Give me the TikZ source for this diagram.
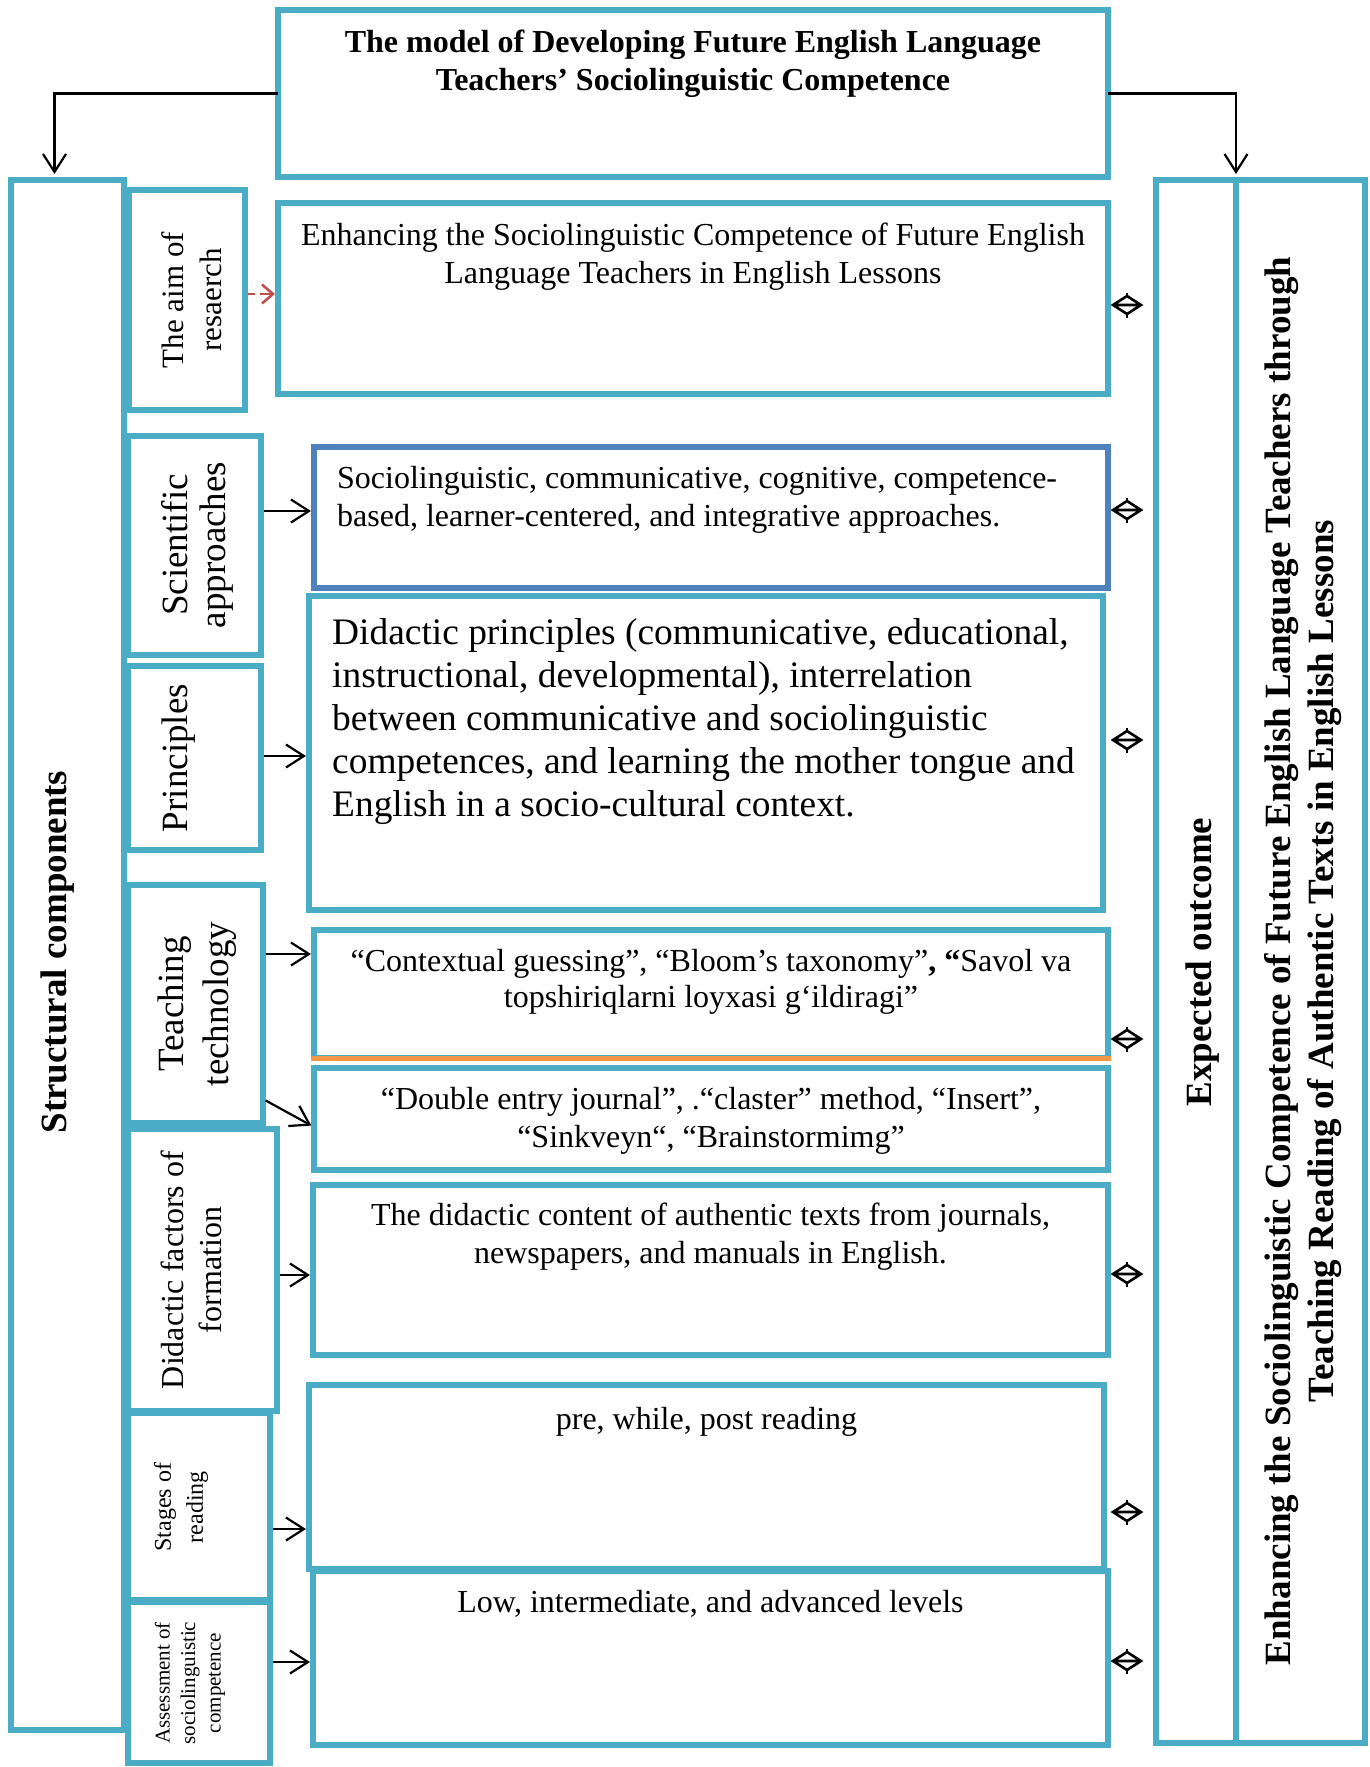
\documentclass[tikz,border=0pt]{standalone}
\usepackage{fontspec}
\setmainfont{Liberation Serif}
\usetikzlibrary{arrows.meta}
\definecolor{cy}{HTML}{4BACC6}
\definecolor{bl}{HTML}{4F81BD}
\definecolor{og}{HTML}{F79646}
\definecolor{rd}{HTML}{C0504D}
% diamond double-arrow ending 14pt before the outcome box, at height #1
\newcommand{\dmdlink}[1]{%
  \draw[dia] (exp.west |- 0,#1) ++(-43,0) coordinate (dL) -- ++(28,0)
    (dL) -- ++(14,-9) -- ++(14,9) -- ++(-14,9) -- cycle;
  \draw[line width=2pt] (dL) ++(14,-12.5) -- ++(0,4) (dL) ++(14,8.5) -- ++(0,4);}
\begin{document}
\begin{tikzpicture}[x=1pt,y=-1pt,
  box/.style={draw=cy, line width=6.5pt, anchor=north west, inner sep=0pt, outer sep=0pt},
  txt/.style={inner sep=0pt, align=center},
  lab/.style={inner sep=0pt, align=center, rotate=90},
  arr/.style={line width=2.2pt, shorten <=3pt, shorten >=3pt, -{Straight Barb[length=18pt,width=23pt]}},
  dia/.style={line width=2.6pt, line join=miter},
  fa/.style={font=\fontsize{32}{38}\selectfont},
  fb/.style={font=\fontsize{32}{38}\selectfont\bfseries},
  fc/.style={font=\fontsize{37}{43}\selectfont\bfseries},
]
\fill[white] (0,0) rectangle (1369,1767);
\useasboundingbox (0,0) rectangle (1369,1767);

% boxes
\node[box, minimum width=830pt, minimum height=167pt] (title) at (278,10) {};
\node[box, minimum width=113pt, minimum height=1550pt] (struct) at (11,180) {};
\node[box, minimum width=116pt, minimum height=220pt] (aimL) at (129,190) {};
\node[box, minimum width=830pt, minimum height=191pt] (aimC) at (278,203) {};
\node[box, minimum width=133pt, minimum height=219pt] (sciL) at (128,436) {};
\node[box, draw=bl, minimum width=794pt, minimum height=141pt] (socio) at (314,447) {};
\node[box, minimum width=133pt, minimum height=184pt] (prinL) at (128,666) {};
\node[box, minimum width=794pt, minimum height=314pt] (prinC) at (309,596) {};
\node[box, minimum width=135pt, minimum height=238pt] (techL) at (128,885) {};
\node[box, minimum width=794pt, minimum height=128pt] (ctx) at (314,930) {};
\node[box, minimum width=794pt, minimum height=102pt] (dbl) at (314,1068) {};
\node[box, minimum width=149pt, minimum height=282pt] (dfL) at (128,1129) {};
\node[box, minimum width=795pt, minimum height=170pt] (dcon) at (313,1185) {};
\node[box, minimum width=142pt, minimum height=187pt] (stL) at (128,1413) {};
\node[box, minimum width=795pt, minimum height=184pt] (pre) at (309,1385) {};
\node[box, minimum width=142pt, minimum height=161pt] (asL) at (128,1602) {};
\node[box, minimum width=795pt, minimum height=174pt] (low) at (313,1571) {};
\node[box, minimum width=80pt, minimum height=1563pt] (exp) at (1156,180) {};
\node[box, minimum width=129pt, minimum height=1563pt] (enh) at (1236,180) {};
\draw[draw=og, line width=5pt] ([xshift=-3pt]ctx.south west) -- ([xshift=3pt]ctx.south east);

% texts
\node[txt, fb, anchor=north] (ttl) at (title.north |- 0,30) {The model of Developing Future English Language\\Teachers’ Sociolinguistic Competence};
\node[txt, fa, anchor=north] (aimT) at (aimC.north |- 0,223) {Enhancing the Sociolinguistic Competence of Future English\\Language Teachers in English Lessons};
\node[txt, fa, anchor=north west, align=left] (socT) at (337,466) {Sociolinguistic, communicative, cognitive, competence-\\based, learner-centered, and integrative approaches.};
\node[txt, anchor=north west, align=left, font=\fontsize{37.4}{43}\selectfont] (prT) at (332,618) {Didactic principles (communicative, educational,\\instructional, developmental), interrelation\\between communicative and sociolinguistic\\competences, and learning the mother tongue and\\English in a socio-cultural context.};
\node[txt, anchor=north, font=\fontsize{32}{36}\selectfont] (ctxT) at (ctx.north |- 0,949) {“Contextual guessing”, “Bloom’s taxonomy”\textbf{, “}Savol va\\topshiriqlarni loyxasi g‘ildiragi”};
\node[txt, fa, anchor=north] (dblT) at (dbl.north |- 0,1087) {“Double entry journal”, .“claster” method, “Insert”,\\“Sinkveyn“, “Brainstormimg”};
\node[txt, fa, anchor=north] (dconT) at (dcon.north |- 0,1203) {The didactic content of authentic texts from journals,\\newspapers, and manuals in English.};
\node[txt, fa, anchor=north] (preT) at (pre.north |- 0,1407) {pre, while, post reading};
\node[txt, fa, anchor=north] (lowT) at (low.north |- 0,1590) {Low, intermediate, and advanced levels};

% rotated labels
\node[lab, fc] (stT) at (58,952) {Structural components};
\node[lab, font=\fontsize{31}{38}\selectfont] (aimLT) at (191.5,300) {The aim of\\resaerch};
\node[lab, font=\fontsize{37}{38}\selectfont] (sciLT) at (197.5,545) {Scientific\\approaches};
\node[lab, font=\fontsize{37}{43}\selectfont] (prinLT) at (178.5,758) {Principles};
\node[lab, font=\fontsize{37}{45}\selectfont] (techLT) at (197,1004) {Teaching\\technology};
\node[lab, font=\fontsize{32}{38}\selectfont] (dfLT) at (191,1270) {Didactic factors of\\formation};
\node[lab, font=\fontsize{24}{32}\selectfont] (stLT) at (181,1507) {Stages of\\reading};
\node[lab, font=\fontsize{21}{25.5}\selectfont] (asLT) at (190,1683) {Assessment of\\sociolinguistic\\competence};
\node[lab, fc] (expT) at (1202.5,962) {Expected outcome};
\node[lab, fc] (enhT) at (1303.5,961) {Enhancing the Sociolinguistic Competence of Future English Language Teachers through\\Teaching Reading of Authentic Texts in English Lessons};

% connectors
\draw[arr, shorten <=0pt, shorten >=6pt] (title.west) -| ([xshift=-13pt]struct.north);
\draw[arr, shorten <=0pt, shorten >=6pt] (title.east) -| (exp.north east);
\draw[line width=2.6pt, draw=rd, shorten <=3pt, shorten >=23pt] (aimL.east |- 0,294) -- (aimC.west |- 0,294);
\draw[line width=2.6pt, draw=rd, shorten <=15pt, shorten >=3pt, -{Straight Barb[length=11pt,width=19pt]}] (aimL.east |- 0,294) -- (aimC.west |- 0,294);
\draw[arr] (sciL.east |- 0,511) -- (socio.west |- 0,511);
\draw[arr] (prinL.east |- 0,756) -- (prinC.west |- 0,756);
\draw[arr] (techL.east |- 0,954) -- (ctx.west |- 0,954);
\draw[arr] (techL.east |- 0,1099) -- (dbl.west |- 0,1127);
\draw[arr] (dfL.east |- 0,1275) -- (dcon.west |- 0,1275);
\draw[arr] (stL.east |- 0,1529) -- (pre.west |- 0,1529);
\draw[arr] (asL.east |- 0,1662) -- (low.west |- 0,1662);

% diamond links to the expected outcome
\dmdlink{305}
\dmdlink{510}
\dmdlink{740}
\dmdlink{1039}
\dmdlink{1274}
\dmdlink{1512}
\dmdlink{1661}
\end{tikzpicture}
\end{document}
